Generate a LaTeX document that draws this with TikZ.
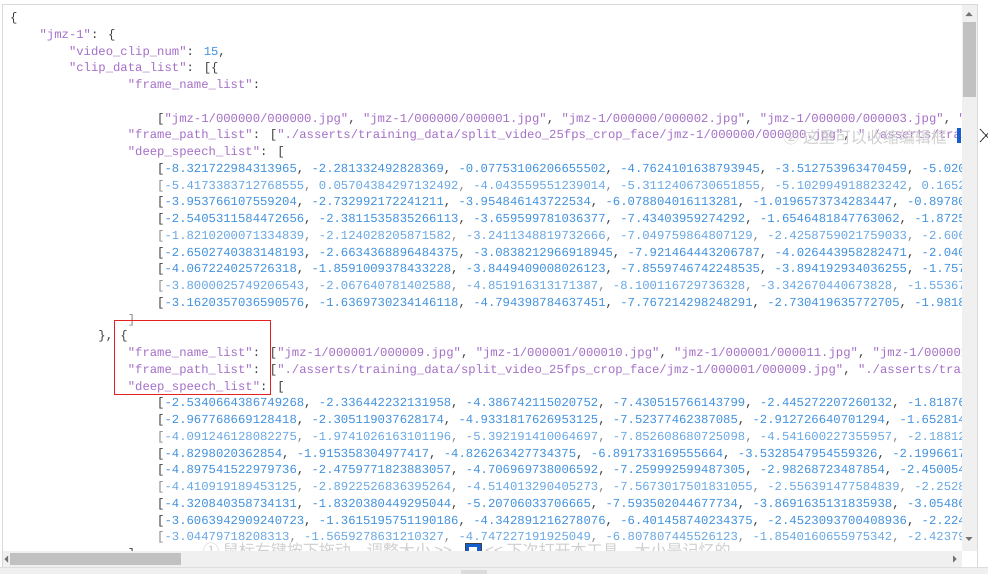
\documentclass[tikz,border=0pt]{standalone}
\usepackage{fontspec}
\newfontfamily\codefont{Liberation Mono}
\newfontfamily\cjkfont{Noto Sans CJK SC}

\definecolor{keycol}{RGB}{165,112,200}
\definecolor{numcol}{RGB}{66,146,222}
\definecolor{punccol}{RGB}{60,60,60}
\definecolor{fadenum}{RGB}{105,168,228}
\definecolor{fadepunc}{RGB}{135,135,135}
\definecolor{barbg}{RGB}{240,240,240}
\definecolor{thumbcol}{RGB}{193,193,193}
\definecolor{wmcol}{RGB}{208,208,208}
\definecolor{boxred}{RGB}{228,32,32}
\definecolor{cursorblue}{RGB}{20,95,205}

\newcommand\K[1]{\textcolor{keycol}{#1}}
\newcommand\N[1]{\textcolor{numcol}{#1}}
% one row of deep_speech numbers
\newcommand\numrow[3]{\textcolor{#2}{[}\gdef\numsep{}%
  \foreach \v in #3{\numsep\textcolor{#1}{\v}\gdef\numsep{\textcolor{#2}{,} }}}
% a code line at column #2, line #3
\newcommand\cl[4]{\node[code] (#1) at ({10+7.35*#2},{21.5+16.75*#3}) {#4};}

\begin{document}
\begin{tikzpicture}[x=1pt,y=-1pt,
  code/.style={anchor=base west,inner sep=0pt,text=punccol,
    font=\codefont\fontsize{12.25}{14}\selectfont},
  wm/.style={anchor=west,inner sep=0pt,text=wmcol,
    font=\cjkfont\fontsize{16}{18}\selectfont},
  tri/.style={fill=black!55}]
\useasboundingbox (0,0) rectangle (988,574);
\fill[white] (0,0) rectangle (988,574);

\begin{scope}
  \clip (3,5) rectangle (962,551);
  \cl{l0}{0}{0}{\{}
  \cl{l1}{4}{1}{\K{"jmz-1"}: \{}
  \cl{l2}{8}{2}{\K{"video\_clip\_num"}: \N{15},}
  \cl{l3}{8}{3}{\K{"clip\_data\_list"}: [\{}
  \cl{l4}{16}{4}{\K{"frame\_name\_list"}:}
  \cl{l6}{20}{6}{[\K{"jmz-1/000000/000000.jpg"}, \K{"jmz-1/000000/000001.jpg"}, \K{"jmz-1/000000/000002.jpg"}, \K{"jmz-1/000000/000003.jpg"}, \K{"jmz-1}}
  \cl{l7}{16}{7}{\K{"frame\_path\_list"}: [\K{"./asserts/training\_data/split\_video\_25fps\_crop\_face/jmz-1/000000/000000.jpg"}, \K{"./asserts/training}}
  \cl{l8}{16}{8}{\K{"deep\_speech\_list"}: [}
  \foreach \n/\fc/\pc/\vals in {
    9/numcol/punccol/{-8.321722984313965,-2.281332492828369,-0.07753106206655502,-4.7624101638793945,-3.512753963470459,-5.020},
    10/fadenum/fadepunc/{-5.4173383712768555,0.05704384297132492,-4.043559551239014,-5.3112406730651855,-5.102994918823242,0.1652},
    11/numcol/punccol/{-3.953766107559204,-2.732992172241211,-3.954846143722534,-6.078804016113281,-1.0196573734283447,-0.89780},
    12/numcol/punccol/{-2.5405311584472656,-2.3811535835266113,-3.659599781036377,-7.43403959274292,-1.6546481847763062,-1.8725},
    13/fadenum/fadepunc/{-1.8210200071334839,-2.124028205871582,-3.2411348819732666,-7.049759864807129,-2.4258759021759033,-2.606},
    14/numcol/punccol/{-2.6502740383148193,-2.6634368896484375,-3.0838212966918945,-7.921464443206787,-4.026443958282471,-2.040},
    15/numcol/punccol/{-4.067224025726318,-1.8591009378433228,-3.8449409008026123,-7.8559746742248535,-3.894192934036255,-1.757},
    16/fadenum/fadepunc/{-3.8000025749206543,-2.067640781402588,-4.851916313171387,-8.100116729736328,-3.342670440673828,-1.55367},
    17/numcol/punccol/{-3.1620357036590576,-1.6369730234146118,-4.794398784637451,-7.767214298248291,-2.730419635772705,-1.9818},
    23/numcol/punccol/{-2.5340664386749268,-2.336442232131958,-4.386742115020752,-7.430515766143799,-2.445272207260132,-1.81876},
    24/numcol/punccol/{-2.967768669128418,-2.305119037628174,-4.9331817626953125,-7.52377462387085,-2.912726640701294,-1.652814},
    25/fadenum/fadepunc/{-4.091246128082275,-1.9741026163101196,-5.392191410064697,-7.852608680725098,-4.541600227355957,-2.18812},
    26/numcol/punccol/{-4.8298020362854,-1.915358304977417,-4.826263427734375,-6.891733169555664,-3.5328547954559326,-2.1996617},
    27/numcol/punccol/{-4.897541522979736,-2.4759771823883057,-4.706969738006592,-7.259992599487305,-2.98268723487854,-2.450054},
    28/fadenum/fadepunc/{-4.410919189453125,-2.8922526836395264,-4.514013290405273,-7.5673017501831055,-2.556391477584839,-2.2528},
    29/numcol/punccol/{-4.320840358734131,-1.8320380449295044,-5.20706033706665,-7.593502044677734,-3.8691635131835938,-3.05486},
    30/numcol/punccol/{-3.6063942909240723,-1.3615195751190186,-4.342891216278076,-6.401458740234375,-2.4523093700408936,-2.224},
    31/fadenum/fadepunc/{-3.04479718208313,-1.5659278631210327,-4.747227191925049,-6.807807445526123,-1.8540160655975342,-2.42379}}
    \node[code] (r\n) at ({10+7.35*20},{21.5+16.75*\n}) {\numrow{\fc}{\pc}{\vals}};
  \cl{l18}{16}{18}{\textcolor{fadepunc}{]}}
  \cl{l19}{12}{19}{\}, \{}
  \cl{l20}{16}{20}{\K{"frame\_name\_list"}: [\K{"jmz-1/000001/000009.jpg"}, \K{"jmz-1/000001/000010.jpg"}, \K{"jmz-1/000001/000011.jpg"}, \K{"jmz-1/000001}}
  \cl{l21}{16}{21}{\K{"frame\_path\_list"}: [\K{"./asserts/training\_data/split\_video\_25fps\_crop\_face/jmz-1/000001/000009.jpg"}, \K{"./asserts/training}}
  \cl{l22}{16}{22}{\K{"deep\_speech\_list"}: [}
  \cl{l32}{16}{32}{]}
\end{scope}

% overlay hints
\node[wm] (hintr) at (783,137) {② 这里可以收缩编辑框};
\node[wm] (hintl) at (203,551) {① 鼠标右键按下拖动，调整大小 >>};
\node[wm] (hintm) at (485,551) {<< 下次打开本工具，大小是记忆的};
\draw[black!75,fill=cursorblue] (465,543) rectangle (481,560);
\fill[white] (469,547) rectangle (477,552);
\fill[cursorblue] (957,128) rectangle (961,143);
\draw[boxred,line width=1pt] (114.5,320.5) rectangle (270.5,394.5);

% scroll bars
\fill[barbg] (962,5) rectangle (977,551);
\fill[thumbcol] (963,22) rectangle (976,97);
\fill[tri] (965.5,16) -- (972.5,16) -- (969,12) -- cycle;
\fill[tri] (965.5,537) -- (972.5,537) -- (969,541) -- cycle;
\fill[barbg] (3,551) rectangle (962,567);
\fill[thumbcol] (10,553) rectangle (181,565);
\fill[tri] (8,555.5) -- (8,562.5) -- (4.5,559) -- cycle;
\fill[tri] (953,555.5) -- (953,562.5) -- (956.5,559) -- cycle;
\fill[white] (962,551) rectangle (977,567);
\draw[black!15] (2.5,567) -- (2.5,4.5) -- (977.5,4.5) -- (977.5,567);
\fill[black!6] (0,567) rectangle (988,574);
\draw[black!13] (0,567) -- (988,567);
\fill[black!14] (461,570) rectangle (487,574);
\draw[black!80,line width=0.8pt] (980,129) -- (992,142) (992,129) -- (980,142);
\end{tikzpicture}
\end{document}
